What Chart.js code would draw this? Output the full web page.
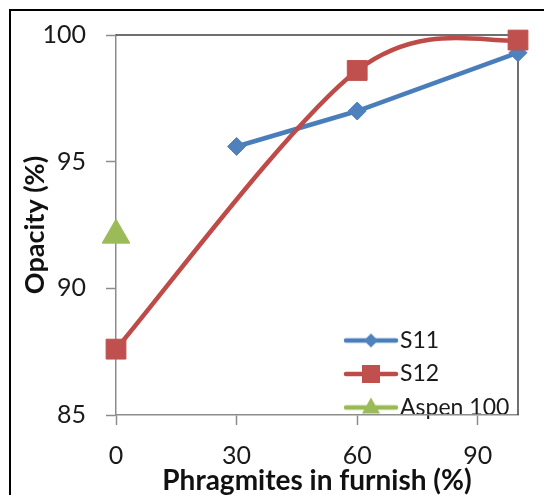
<!DOCTYPE html>
<html>
<head>
<meta charset="utf-8">
<script src="https://cdn.jsdelivr.net/npm/chart.js@4"></script>
<style>
  html, body { margin: 0; padding: 0; background: #fff; overflow: hidden; }
  canvas { display: block; }
</style>
</head>
<body>
<canvas id="opacity-chart" width="560" height="520"></canvas>
<script>
// opacity vs phragmites share in the furnish
const s11X = [30, 60, 100];
const s11Y = [95.6, 97.0, 99.3];
const s12X = [0, 60, 100];
const s12Y = [87.6, 98.6, 99.8];
const aspenX = [0];
const aspenY = [92.1];
const seriesNames = ['S11', 'S12', 'Aspen 100'];
const xTicks = [0, 30, 60, 90];
const yTicks = [85, 90, 95, 100];

const blue = '#4F81BD', red = '#C0504D', green = '#9BBB59';
const blueLine = '#4A7EBB', redLine = '#BE4B48', greenLine = '#98B954';

const toPoints = (xs, ys) => xs.map((x, i) => ({x: x, y: ys[i]}));

// small line + marker icons for the legend
function legendIcon(lineColor, fill, shape) {
    const c = document.createElement('canvas');
    c.width = 56;
    c.height = 30;
    const g = c.getContext('2d');
    g.strokeStyle = lineColor;
    g.lineWidth = 4.5;
    g.lineCap = 'round';
    g.beginPath();
    g.moveTo(3, 15);
    g.lineTo(53, 15);
    g.stroke();
    g.fillStyle = fill;
    g.beginPath();
    if (shape === 'diamond') {
        g.moveTo(28, 8); g.lineTo(35, 15); g.lineTo(28, 22); g.lineTo(21, 15);
    } else if (shape === 'square') {
        g.rect(19, 6, 18, 18);
    } else {
        g.moveTo(28, 5); g.lineTo(37, 21); g.lineTo(19, 21);
    }
    g.closePath();
    g.fill();
    return c;
}
const legendIcons = [
    legendIcon(blueLine, blue, 'diamond'),
    legendIcon(redLine, red, 'square'),
    legendIcon(greenLine, green, 'triangle')
];

// white page, outer frame and the top/right edges of the plot box
const framePlugin = {
    id: 'frame',
    beforeDraw(chart) {
        const ctx = chart.ctx;
        ctx.save();
        ctx.fillStyle = '#fff';
        ctx.fillRect(0, 0, chart.width, chart.height);
        ctx.strokeStyle = '#000';
        ctx.lineWidth = 2;
        ctx.strokeRect(10, 10, 700, 700);
        ctx.restore();
    },
    beforeDatasetsDraw(chart) {
        const {ctx, chartArea: a} = chart;
        ctx.save();
        ctx.strokeStyle = '#404040';
        ctx.lineWidth = 1.5;
        ctx.beginPath();
        ctx.moveTo(a.left, a.top);
        ctx.lineTo(a.right, a.top);
        ctx.lineTo(a.right, a.bottom);
        ctx.stroke();
        ctx.restore();
    },
    afterLayout(chart) {
        // legend sits in the lower right corner of the plot
        const lg = chart.legend;
        lg.left = 343;
        lg.right = chart.chartArea.right;
        lg.top = chart.chartArea.top;
        lg.bottom = 429.5;
    }
};

// office-style smoothing: control points at 1/6 of the neighbour chord
const smoothPlugin = {
    id: 'smooth',
    beforeDatasetDraw(chart, args) {
        const meta = args.meta;
        if (!meta.dataset || !meta.dataset.options.tension) return;
        meta.dataset.updateControlPoints(chart.chartArea, meta.iScale.axis);
        const pts = meta.data;
        const n = pts.length;
        for (let i = 0; i < n; i++) {
            const prev = pts[Math.max(i - 1, 0)];
            const next = pts[Math.min(i + 1, n - 1)];
            const dx = (next.x - prev.x) / 6;
            const dy = (next.y - prev.y) / 6;
            pts[i].cp1x = pts[i].x - dx;
            pts[i].cp1y = pts[i].y - dy;
            pts[i].cp2x = pts[i].x + dx;
            pts[i].cp2y = pts[i].y + dy;
        }
        meta.dataset._path = undefined;
    }
};

const ctx = document.getElementById('opacity-chart').getContext('2d');

let opacityChart = new Chart(ctx, {
    type: 'line',
    data: {
        datasets: [{
            label: seriesNames[0],
            data: toPoints(s11X, s11Y),
            borderColor: blueLine,
            backgroundColor: blue,
            borderWidth: 4.5,
            tension: 0,
            pointStyle: 'rectRot',
            pointRadius: 9,
            pointBorderWidth: 1,
            pointBorderColor: blue,
            pointBackgroundColor: blue,
            clip: false,
            order: 1
        }, {
            label: seriesNames[1],
            data: toPoints(s12X, s12Y),
            borderColor: redLine,
            backgroundColor: red,
            borderWidth: 4.5,
            tension: 0.4,
            pointStyle: 'rect',
            pointRadius: 14,
            pointBorderWidth: 1,
            pointBorderColor: red,
            pointBackgroundColor: red,
            clip: false,
            order: 0
        }, {
            label: seriesNames[2],
            data: toPoints(aspenX, aspenY),
            borderColor: greenLine,
            backgroundColor: green,
            showLine: false,
            pointStyle: 'triangle',
            pointRadius: 16,
            pointBorderWidth: 1,
            pointBorderColor: green,
            pointBackgroundColor: green,
            clip: false,
            order: 2
        }]
    },
    options: {
        responsive: false,
        animation: false,
        devicePixelRatio: 1,
        layout: {
            padding: {top: 33, right: 42, left: 0, bottom: 0}
        },
        plugins: {
            tooltip: {enabled: false},
            legend: {
                display: true,
                position: 'chartArea',
                align: 'end',
                labels: {
                    usePointStyle: true,
                    pointStyleWidth: 35,
                    padding: 10.5,
                    color: '#1a1a1a',
                    font: {family: 'Lato', size: 23},
                    sort: (a, b) => a.datasetIndex - b.datasetIndex,
                    generateLabels(chart) {
                        const items = Chart.defaults.plugins.legend.labels.generateLabels(chart);
                        items.forEach(it => { it.pointStyle = legendIcons[it.datasetIndex]; });
                        return items;
                    }
                }
            }
        },
        scales: {
            x: {
                type: 'linear',
                min: 0,
                max: 100,
                afterBuildTicks: scale => { scale.ticks = xTicks.map(v => ({value: v})); },
                afterFit: scale => { scale.height = 105; },
                grid: {drawOnChartArea: false, tickLength: 10, tickColor: '#8c8c8c', tickWidth: 1.5},
                border: {color: '#8c8c8c', width: 1.5},
                ticks: {color: '#1a1a1a', padding: 16, font: {family: 'Lato', size: 25}},
                title: {
                    display: true,
                    text: 'Phragmites in furnish (%)',
                    color: '#111',
                    font: {family: 'Lato', size: 28, weight: 'bold'},
                    padding: {top: 0, bottom: 22}
                }
            },
            y: {
                min: 85,
                max: 100,
                afterBuildTicks: scale => { scale.ticks = yTicks.map(v => ({value: v})); },
                afterFit: scale => { scale.width = 116; },
                grid: {drawOnChartArea: false, tickLength: 10, tickColor: '#8c8c8c', tickWidth: 1.5},
                border: {color: '#8c8c8c', width: 1.5},
                ticks: {color: '#1a1a1a', padding: 20, font: {family: 'Lato', size: 25}},
                title: {
                    display: true,
                    text: 'Opacity (%)',
                    color: '#111',
                    font: {family: 'Lato', size: 27, weight: 'bold'},
                    padding: {top: 19, bottom: 0}
                }
            }
        }
    },
    plugins: [framePlugin, smoothPlugin]
});
</script>
</body>
</html>
